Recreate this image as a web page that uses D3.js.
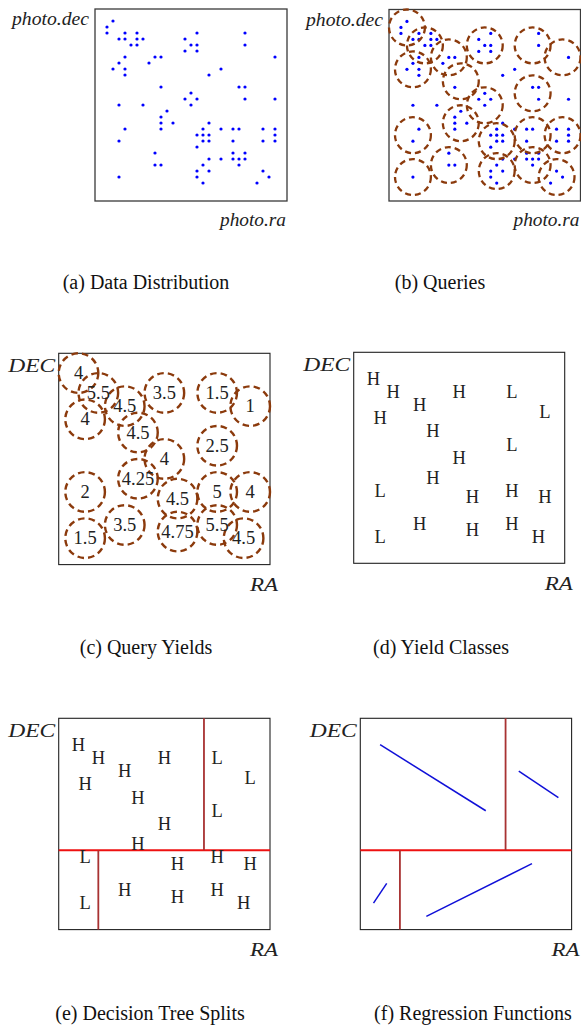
<!DOCTYPE html>
<html>
<head>
<meta charset="utf-8">
<script src="https://cdn.jsdelivr.net/npm/d3@7"></script>
<style>
  html, body { margin: 0; padding: 0; background: #fff; }
  svg { display: block; }
  svg text { font-family: "Liberation Serif", "Times New Roman", serif; }
</style>
</head>
<body>
<svg id="fig" width="581" height="1026"></svg>
<script>
// Sky survey objects on a 32x32 grid (ra, dec)
const photoPoints = [
  [3,30],[2,29],
  [2,28],[5,28],[7,28],[17,28],[25,28],
  [4,27],[5,27],[7,27],[8,27],[15,27],
  [6,26],[7,26],[16,26],[17,26],[25,26],
  [15,25],[17,25],
  [5,24],[10,24],[11,24],[30,24],
  [4,23],[9,23],
  [3,22],[5,22],[21,22],
  [5,21],[19,21],
  [11,19],[24,19],[25,19],
  [16,18],
  [15,17],[17,17],[25,17],[30,17],
  [4,16],[8,16],[16,16],
  [12,15],
  [11,14],
  [11,13],[13,13],[19,13],
  [5,12],[11,12],[18,12],[21,12],[23,12],[24,12],[28,12],[30,12],
  [17,11],[18,11],[19,11],[30,11],
  [4,10],[18,10],[19,10],[23,10],[28,10],[30,10],
  [17,9],
  [10,8],[23,8],[25,8],
  [19,7],[21,7],[23,7],[24,7],[25,7],
  [10,6],[11,6],[18,6],[24,6],
  [17,5],[19,5],[28,5],
  [4,4],[17,4],[29,4],
  [18,3],[27,3]
];

// Range queries: centres and measured yields
const queryCenters = [
  [3,29],[6,26],[10,24],[16,26],[24,26],[29,24],
  [4,22],[12,20],[24,18],[16,16],[12,13],
  [4,11],[18,10],[24,11],[29,11],
  [10,6],[4,4],[18,5],[24,6],[28,4]
];
const queryYields = [
  4, 5.5, 4.5, 3.5, 1.5, 1,
  4, 4.5, 2.5, 4, 4.25,
  2, 4.5, 5, 4,
  3.5, 1.5, 4.75, 5.5, 4.5
];
const queryRadius = 3;

// Where the yield class of each query is written
const classCenters = [
  [3,28],[6,26],[10,24],[16,26],[24,26],[29,23],
  [4,22],[12,20],[24,18],[16,16],[12,13],
  [4,11],[18,10],[24,11],[29,10],
  [10,6],[4,4],[18,5],[24,6],[28,4]
];
const yieldThreshold = 3;

// Decision tree splits: [x1, y1, x2, y2] in (ra, dec)
const rootSplit = [0, 12, 32, 12];
const childSplits = [[22, 12, 22, 32], [6, 0, 6, 12]];

// Linear regression fits inside each leaf
const regressionSegments = [
  [3, 28, 19, 18],
  [24, 24, 30, 20],
  [2, 4, 4, 7],
  [10, 2, 26, 10]
];

const captions = [
  "(a) Data Distribution", "(b) Queries",
  "(c) Query Yields", "(d) Yield Classes",
  "(e) Decision Tree Splits", "(f) Regression Functions"
];

const svg = d3.select("#fig");

function makePanel(x0, y0, size, opts) {
  const g = svg.append("g");
  const xs = d3.scaleLinear().domain([0, 32]).range([x0, x0 + size]);
  const ys = d3.scaleLinear().domain([0, 32]).range([y0 + size, y0]);
  g.append("rect")
    .attr("x", x0).attr("y", y0).attr("width", size).attr("height", size)
    .attr("fill", "none")
    .attr("stroke", opts.boxColor).attr("stroke-width", opts.boxWidth);
  // axis names
  g.append("text")
    .attr("x", x0 + opts.yLabelDx).attr("y", y0 + opts.yLabelDy)
    .attr("text-anchor", "end")
    .style("font-style", "italic")
    .attr("font-size", opts.labelSize).attr("fill", "#222")
    .attr("textLength", opts.yLabelLen).attr("lengthAdjust", "spacingAndGlyphs")
    .text(opts.yLabel);
  g.append("text")
    .attr("x", x0 + size + opts.xLabelDx).attr("y", y0 + size + opts.xLabelDy)
    .attr("text-anchor", "end")
    .style("font-style", "italic")
    .attr("font-size", opts.labelSize).attr("fill", "#222")
    .attr("textLength", opts.xLabelLen).attr("lengthAdjust", "spacingAndGlyphs")
    .text(opts.xLabel);
  return { g, xs, ys };
}

const smallOpts = {
  boxColor: "#3a3a3a", boxWidth: 1.3, labelSize: 18.5,
  yLabel: "photo.dec", yLabelDx: -6, yLabelDy: 16, yLabelLen: 77,
  xLabel: "photo.ra", xLabelDx: -1, xLabelDy: 25, xLabelLen: 66
};
const bigOpts = {
  boxColor: "#222", boxWidth: 1.1, labelSize: 19,
  yLabel: "DEC", yLabelDx: -3.5, yLabelDy: 19, yLabelLen: 47,
  xLabel: "RA", xLabelDx: 8, xLabelDy: 26.5, xLabelLen: 28
};

function drawPoints(p) {
  p.g.selectAll("circle.pt").data(photoPoints).join("circle")
    .attr("class", "pt")
    .attr("cx", d => p.xs(d[0])).attr("cy", d => p.ys(d[1]))
    .attr("r", 1.6).attr("fill", "#0000ff");
}

function drawQueries(p, dash, width) {
  const r = p.xs(queryRadius) - p.xs(0);
  p.g.selectAll("circle.q").data(queryCenters).join("circle")
    .attr("class", "q")
    .attr("cx", d => p.xs(d[0])).attr("cy", d => p.ys(d[1]))
    .attr("r", r)
    .attr("fill", "none").attr("stroke", "#8b3a0c")
    .attr("stroke-width", width).attr("stroke-dasharray", dash);
}

function drawClasses(p) {
  p.g.selectAll("text.cls").data(classCenters).join("text")
    .attr("class", "cls")
    .attr("x", d => p.xs(d[0])).attr("y", d => p.ys(d[1]))
    .attr("text-anchor", "middle").attr("dominant-baseline", "central")
    .attr("font-size", 18.5).attr("fill", "#222")
    .text((d, i) => queryYields[i] >= yieldThreshold ? "H" : "L");
}

function drawSplits(p) {
  p.g.append("line")
    .attr("x1", p.xs(rootSplit[0])).attr("y1", p.ys(rootSplit[1]))
    .attr("x2", p.xs(rootSplit[2])).attr("y2", p.ys(rootSplit[3]))
    .attr("stroke", "#ee1111").attr("stroke-width", 2);
  p.g.selectAll("line.child").data(childSplits).join("line")
    .attr("class", "child")
    .attr("x1", d => p.xs(d[0])).attr("y1", d => p.ys(d[1]))
    .attr("x2", d => p.xs(d[2])).attr("y2", d => p.ys(d[3]))
    .attr("stroke", "#a83232").attr("stroke-width", 1.8);
}

// (a) data distribution
const pa = makePanel(95, 9, 192, smallOpts);
drawPoints(pa);

// (b) queries over the data
const pb = makePanel(389, 9.5, 191.5, smallOpts);
drawPoints(pb);
drawQueries(pb, "6,4", 2.3);

// (c) query yields
const pc = makePanel(58.7, 353.3, 211.3, bigOpts);
drawQueries(pc, "6.5,4.2", 2.4);
pc.g.selectAll("text.yl").data(queryCenters).join("text")
  .attr("class", "yl")
  .attr("x", d => pc.xs(d[0])).attr("y", d => pc.ys(d[1]))
  .attr("text-anchor", "middle").attr("dominant-baseline", "central")
  .attr("font-size", 18.5).attr("fill", "#222")
  .text((d, i) => queryYields[i]);

// (d) yield classes
const pd = makePanel(353.7, 352.3, 211, bigOpts);
drawClasses(pd);

// (e) decision tree splits
const pe = makePanel(58.7, 718.3, 211.3, bigOpts);
drawSplits(pe);
drawClasses(pe);

// (f) regression functions per leaf
const pf = makePanel(360.3, 718.3, 211.3, bigOpts);
drawSplits(pf);
pf.g.selectAll("line.reg").data(regressionSegments).join("line")
  .attr("class", "reg")
  .attr("x1", d => pf.xs(d[0])).attr("y1", d => pf.ys(d[1]))
  .attr("x2", d => pf.xs(d[2])).attr("y2", d => pf.ys(d[3]))
  .attr("stroke", "#1010d8").attr("stroke-width", 1.5);

// sub-figure captions
const captionPos = [
  [146, 289], [440, 289],
  [146, 654], [441, 654],
  [150, 1020], [473, 1020]
];
svg.selectAll("text.cap").data(captions).join("text")
  .attr("class", "cap")
  .attr("x", (d, i) => captionPos[i][0]).attr("y", (d, i) => captionPos[i][1])
  .attr("text-anchor", "middle")
  .attr("font-size", 20).attr("fill", "#111")
  .text(d => d);
</script>
</body>
</html>
